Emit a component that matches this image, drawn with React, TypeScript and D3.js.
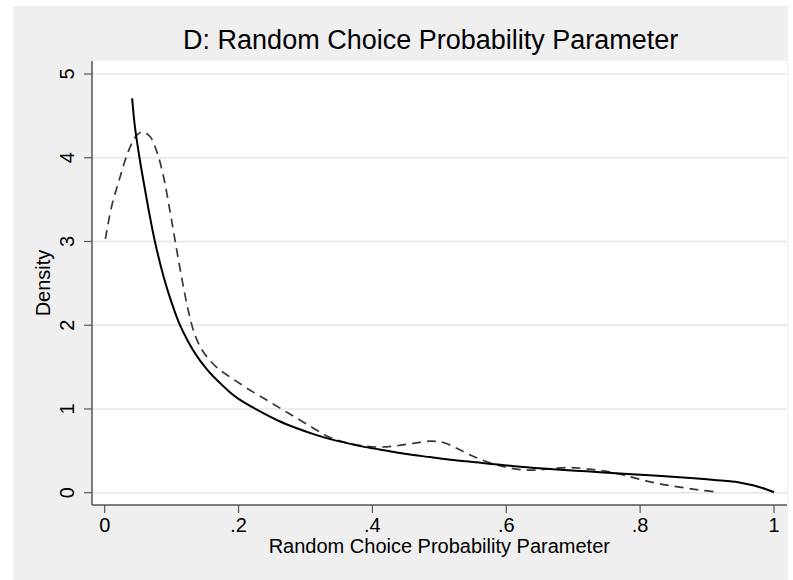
import React from "react";
import * as d3 from "d3";

const title = "D: Random Choice Probability Parameter";
const xTitle = "Random Choice Probability Parameter";
const yTitle = "Density";
const xTicks = [0, 0.2, 0.4, 0.6, 0.8, 1];
const xTickLabels = ["0", ".2", ".4", ".6", ".8", "1"];
const yTicks = [0, 1, 2, 3, 4, 5];

// solid curve (fitted density)
const solidX = [0.041, 0.045, 0.052, 0.06, 0.067, 0.075, 0.088, 0.1, 0.1125, 0.125, 0.137, 0.15, 0.162, 0.175, 0.187, 0.2, 0.212, 0.237, 0.262, 0.287, 0.312, 0.337, 0.361, 0.386, 0.411, 0.436, 0.461, 0.486, 0.521, 0.571, 0.621, 0.67, 0.72, 0.77, 0.82, 0.87, 0.9, 0.93, 0.95, 0.97, 0.985, 1.0];
const solidY = [4.71, 4.38, 4.0, 3.63, 3.32, 3.0, 2.58, 2.27, 2.0, 1.8, 1.64, 1.5, 1.39, 1.29, 1.2, 1.12, 1.06, 0.95, 0.85, 0.77, 0.7, 0.64, 0.595, 0.55, 0.515, 0.48, 0.45, 0.425, 0.39, 0.35, 0.31, 0.28, 0.255, 0.23, 0.205, 0.178, 0.16, 0.14, 0.12, 0.085, 0.05, 0.005];

// dashed curve (kernel density)
const dashX = [0.001, 0.0104, 0.023, 0.035, 0.048, 0.057, 0.068, 0.078, 0.088, 0.098, 0.105, 0.112, 0.119, 0.125, 0.131, 0.137, 0.145, 0.155, 0.167, 0.18, 0.195, 0.212, 0.237, 0.262, 0.287, 0.312, 0.337, 0.361, 0.386, 0.411, 0.436, 0.461, 0.486, 0.506, 0.526, 0.546, 0.571, 0.596, 0.621, 0.645, 0.67, 0.695, 0.72, 0.745, 0.77, 0.79, 0.815, 0.84, 0.865, 0.89, 0.915];
const dashY = [3.03, 3.42, 3.77, 4.07, 4.27, 4.31, 4.25, 4.07, 3.77, 3.34, 3.02, 2.7, 2.4, 2.17, 1.98, 1.84, 1.71, 1.6, 1.5, 1.42, 1.34, 1.25, 1.13, 1.01, 0.89, 0.77, 0.66, 0.595, 0.56, 0.545, 0.56, 0.59, 0.615, 0.6, 0.53, 0.45, 0.37, 0.31, 0.275, 0.27, 0.29, 0.3, 0.285, 0.26, 0.22, 0.18, 0.13, 0.09, 0.06, 0.03, 0.01];

export default function App() {
  const W = 793, H = 580;
  const left = 92, right = 787, top = 61, bottom = 505;
  const x = d3.scaleLinear().domain([0, 1]).range([104.7, 774]);
  const y = d3.scaleLinear().domain([0, 5]).range([492.7, 74]);
  const line = d3.line<[number, number]>()
    .x((d) => x(d[0]))
    .y((d) => y(d[1]))
    .curve(d3.curveCatmullRom.alpha(0.5));
  const solid = line(solidX.map((v, i) => [v, solidY[i]] as [number, number])) || "";
  const dashed = line(dashX.map((v, i) => [v, dashY[i]] as [number, number])) || "";
  const font = "Liberation Sans, Arial, Helvetica, sans-serif";
  const axisColor = "#555";
  return (
    <svg width={W} height={H} style={{ position: "absolute", left: 0, top: 0 }} fontFamily={font}>
      <rect x={0} y={0} width={W} height={H} fill="#fff" />
      <rect x={13} y={6} width={775} height={574} fill="#efefef" />
      <rect x={left} y={top} width={right - left} height={bottom - top} fill="#fff" />
      {yTicks.map((t) => (
        <line key={"g" + t} x1={left} x2={right} y1={y(t)} y2={y(t)} stroke="#e6e6e6" strokeWidth={1.5} />
      ))}
      <path d={dashed} fill="none" stroke="#383838" strokeWidth={1.7} strokeDasharray="9,6" />
      <path d={solid} fill="none" stroke="#000" strokeWidth={2} />
      <line x1={left} x2={left} y1={top} y2={bottom} stroke={axisColor} strokeWidth={1.5} />
      <line x1={left} x2={right} y1={bottom} y2={bottom} stroke={axisColor} strokeWidth={1.5} />
      {yTicks.map((t) => (
        <g key={"y" + t}>
          <line x1={left - 8} x2={left} y1={y(t)} y2={y(t)} stroke={axisColor} strokeWidth={1.2} />
          <text transform={`translate(74,${y(t)}) rotate(-90)`} textAnchor="middle" fontSize={20} fill="#000">{t}</text>
        </g>
      ))}
      {xTicks.map((t, i) => (
        <g key={"x" + t}>
          <line x1={x(t)} x2={x(t)} y1={bottom} y2={bottom + 8} stroke={axisColor} strokeWidth={1.2} />
          <text x={x(t)} y={531.7} textAnchor="middle" fontSize={20} fill="#000">{xTickLabels[i]}</text>
        </g>
      ))}
      <text x={439.3} y={553} textAnchor="middle" fontSize={20} fill="#000">{xTitle}</text>
      <text transform={`translate(49.5,283) rotate(-90)`} textAnchor="middle" fontSize={20} fill="#000">{yTitle}</text>
      <text x={430.7} y={49.3} textAnchor="middle" fontSize={27} fill="#000">{title}</text>
    </svg>
  );
}
